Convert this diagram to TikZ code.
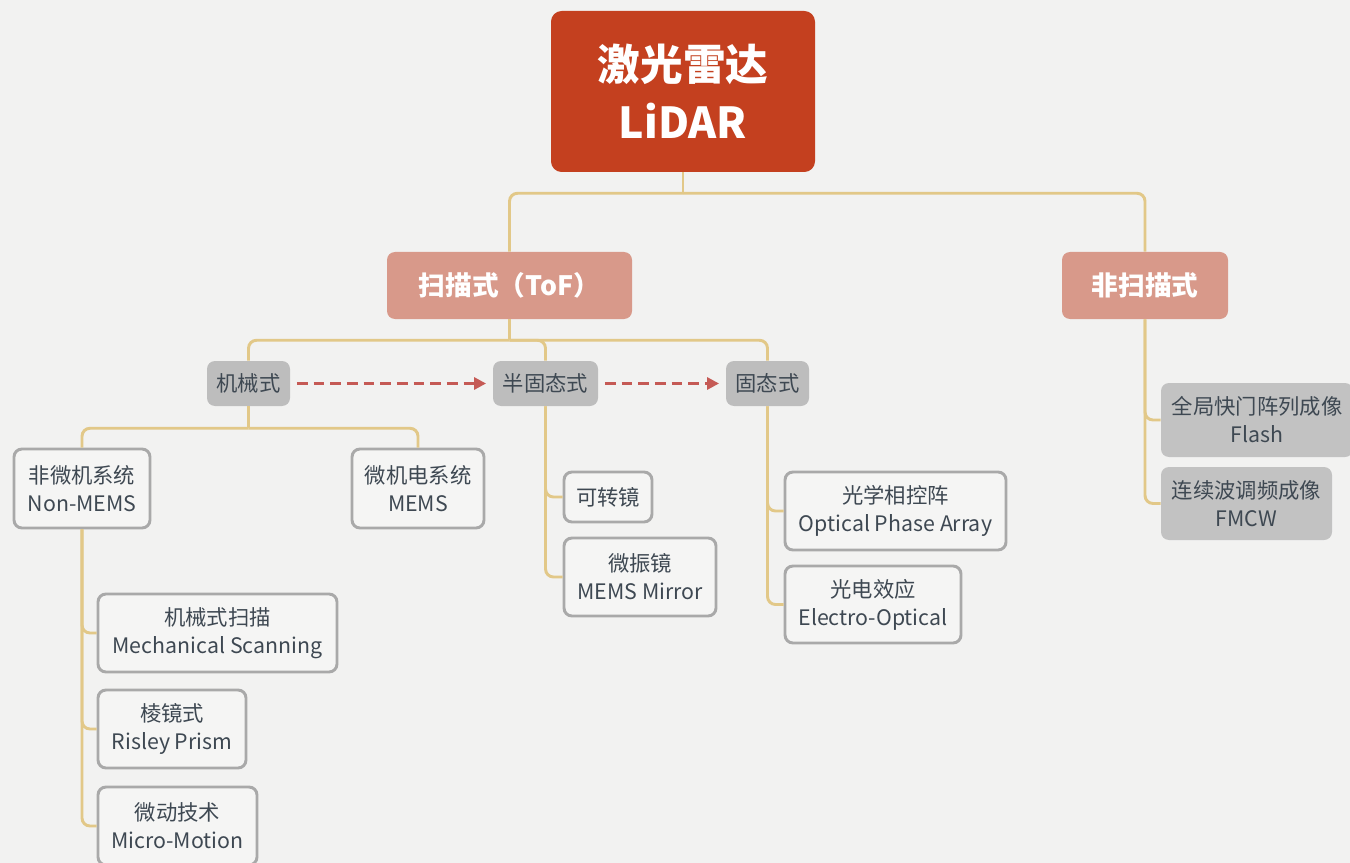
\documentclass[tikz,border=0pt]{standalone}
\usepackage{fontspec}
\setmainfont{Noto Sans CJK SC}
\usetikzlibrary{arrows.meta}
\definecolor{bg}{HTML}{F2F2F1}
\definecolor{rootc}{HTML}{C4401F}
\definecolor{lvonec}{HTML}{D8998A}
\definecolor{lvtwoc}{HTML}{BDBDBD}
\definecolor{txtc}{HTML}{3E4852}
\definecolor{leafc}{HTML}{F5F5F4}
\definecolor{leafb}{HTML}{A9A9A9}
\definecolor{gleafc}{HTML}{C2C2C2}
\definecolor{connc}{HTML}{E2C888}
\definecolor{arrc}{HTML}{C55A55}
\begin{document}
\begin{tikzpicture}[x=0.75pt,y=-0.75pt,
  sz/.style 2 args={minimum width=#1*0.75pt, minimum height=#2*0.75pt},
  base/.style={rectangle, rounded corners=6pt, inner sep=0pt, align=center},
  rootbox/.style={base, fill=rootc, text=white, rounded corners=8pt,
    font=\fontsize{32}{43.5}\selectfont\bfseries},
  lvone/.style={base, fill=lvonec, text=white, font=\fontsize{20}{24}\selectfont\bfseries},
  lvtwo/.style={base, fill=lvtwoc, text=txtc, font=\fontsize{16}{20}\selectfont},
  leaf/.style={base, fill=leafc, draw=leafb, line width=2.2pt, text=txtc,
    font=\fontsize{16}{21}\selectfont},
  gleaf/.style={base, fill=gleafc, text=txtc, font=\fontsize{16}{21}\selectfont},
  conn/.style={draw=connc, line width=2.2pt, rounded corners=6pt},
  darr/.style={draw=arrc, line width=2.2pt, dash pattern=on 8pt off 4.5pt,
    -{Triangle[length=9pt,width=9pt]}, shorten <=5pt, shorten >=5pt}]
\path[use as bounding box, fill=bg] (0,0) rectangle (1350,863);

% nodes
\node[rootbox, sz={264}{161}] (root) at (683,91.5) {激光雷达\\LiDAR};
\node[lvone, sz={245}{67}] (scan) at (509.5,285.5) {扫描式（ToF）};
\node[lvone, sz={166}{67}] (nonscan) at (1145,285.5) {非扫描式};
\node[lvtwo, sz={83}{45}] (mech) at (248.5,383.5) {机械式};
\node[lvtwo, sz={105}{45}] (semi) at (545.5,383.5) {半固态式};
\node[lvtwo, sz={83}{45}] (solid) at (767.5,383.5) {固态式};
\node[leaf, sz={136}{79}] (nonmems) at (82,488.5) {非微机系统\\Non-MEMS};
\node[leaf, sz={132}{79}] (mems) at (418,488.5) {微机电系统\\MEMS};
\node[leaf, sz={88}{50}] (rot) at (608,497) {可转镜};
\node[leaf, sz={152}{78}] (mmirror) at (640,577) {微振镜\\MEMS Mirror};
\node[leaf, sz={221}{78}] (opa) at (895.5,511) {光学相控阵\\Optical Phase Array};
\node[leaf, sz={176}{77}] (eo) at (873,604.5) {光电效应\\Electro-Optical};
\node[leaf, sz={239}{78}] (mscan) at (217.5,633) {机械式扫描\\Mechanical Scanning};
\node[leaf, sz={148}{78}] (risley) at (172,729) {棱镜式\\Risley Prism};
\node[leaf, sz={159}{78}] (micro) at (177.5,826) {微动技术\\Micro-Motion};
\node[gleaf, sz={192}{74}] (flash) at (1257,420) {全局快门阵列成像\\Flash};
\node[gleaf, sz={171}{73}] (fmcw) at (1246.5,503.5) {连续波调频成像\\FMCW};

% connectors
\draw[conn] (root.south) -- ++(0,21) coordinate (j0);
\draw[conn] (scan.north) |- (j0);
\draw[conn] (nonscan.north) |- (j0);

\draw[conn] (scan.south) -- ++(0,21) coordinate (j1);
\draw[conn] (mech.north) |- (j1);
\draw[conn] (semi.north) |- (j1);
\draw[conn] (solid.north) |- (j1);

\draw[conn] (mech.south) -- ++(0,22) coordinate (j2);
\draw[conn] (nonmems.north) |- (j2);
\draw[conn] (mems.north) |- (j2);

\draw[conn] (nonmems.south) |- (mscan.west);
\draw[conn] (nonmems.south) |- (risley.west);
\draw[conn] (nonmems.south) |- (micro.west);

\draw[conn] (semi.south) |- (rot.west);
\draw[conn] (semi.south) |- (mmirror.west);

\draw[conn] (solid.south) |- (opa.west);
\draw[conn] (solid.south) |- (eo.west);

\draw[conn] (nonscan.south) |- (flash.west);
\draw[conn] (nonscan.south) |- (fmcw.west);

% dashed arrows
\draw[darr] (mech.east) -- (semi.west);
\draw[darr] (semi.east) -- (solid.west);
\end{tikzpicture}
\end{document}
